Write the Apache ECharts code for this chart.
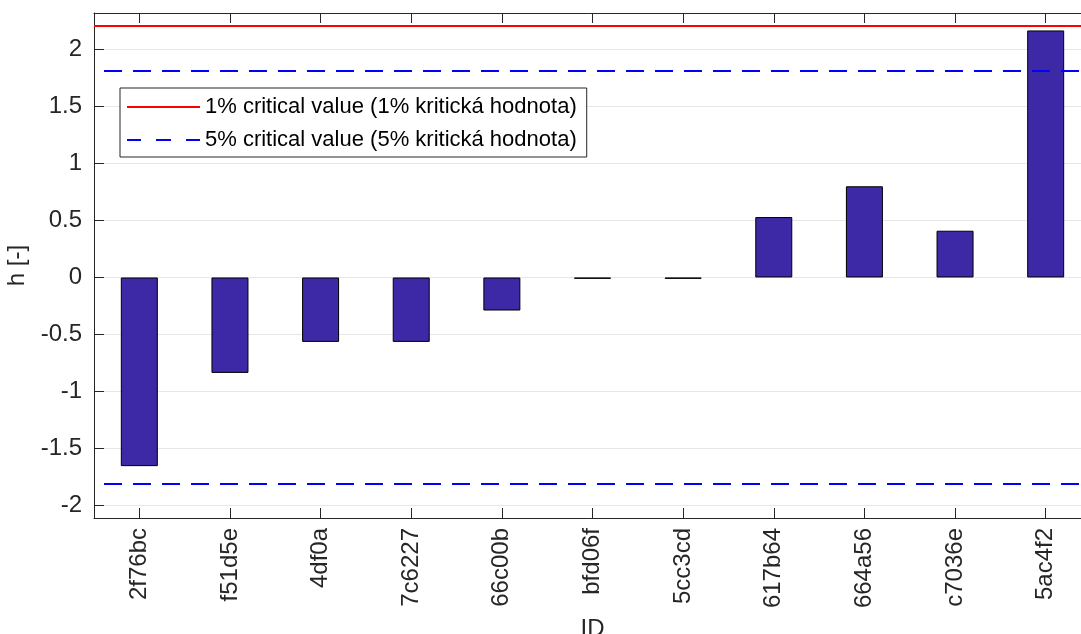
<!DOCTYPE html>
<html>
<head>
<meta charset="utf-8">
<script src="https://cdn.jsdelivr.net/npm/echarts@6/dist/echarts.min.js"></script>
<style>
  html, body { margin: 0; padding: 0; background: #fff; }
  #chart { width: 1081px; height: 634px; }
</style>
</head>
<body>
<div id="chart"></div>
<script>
// data
const ids = ['2f76bc', 'f51d5e', '4df0a', '7c6227', '66c00b', 'bfd06f', '5cc3cd', '617b64', '664a56', 'c7036e', '5ac4f2'];
const hValues = [-1.655, -0.837, -0.565, -0.565, -0.29, -0.012, -0.012, 0.53, 0.80, 0.41, 2.167];
const yTicks = [-2, -1.5, -1, -0.5, 0, 0.5, 1, 1.5, 2];
const crit1 = [2.215];
const crit5 = [1.815, -1.815];
const legendNames = ['1% critical value (1% kritická hodnota)', '5% critical value (5% kritická hodnota)'];

const axisColor = '#262626';
const font = "'Liberation Sans', Arial, sans-serif";

const chart = echarts.init(document.getElementById('chart'));

const option = {
  animation: false,
  textStyle: { fontFamily: font },
  grid: { left: 94, top: 13, width: 997, bottom: 116, outerBoundsMode: 'none' },
  legend: {
    orient: 'vertical',
    left: 120,
    top: 88,
    padding: [8, 10, 6, 7],
    itemWidth: 73,
    itemHeight: 14,
    itemGap: 11,
    borderColor: axisColor,
    borderWidth: 1,
    backgroundColor: '#fff',
    selectedMode: false,
    textStyle: { fontSize: 22, lineHeight: 22, color: '#000', fontFamily: font },
    data: [
      { name: legendNames[0], icon: 'path://M0,0h73v2H0z', itemStyle: { color: '#ff0000' } },
      { name: legendNames[1], icon: 'path://M0,0h14v2H0z M29,0h15v2H29z M59,0h14v2H59z', itemStyle: { color: '#0000ff' } }
    ]
  },
  xAxis: [{
    type: 'category',
    data: ids,
    position: 'bottom',
    name: 'ID',
    nameLocation: 'middle',
    nameGap: 99,
    nameTextStyle: { fontSize: 24, color: axisColor, fontFamily: font },
    axisLine: { show: true, onZero: false, lineStyle: { color: axisColor, width: 1 } },
    axisTick: { show: true, inside: true, length: 10, alignWithLabel: true, lineStyle: { color: axisColor } },
    axisLabel: { rotate: 90, fontSize: 24, color: axisColor, margin: 10, interval: 0, fontFamily: font },
    splitLine: { show: false }
  }, {
    type: 'category',
    data: ids,
    position: 'top',
    axisLine: { show: true, onZero: false, lineStyle: { color: axisColor, width: 1 } },
    axisTick: { show: true, inside: true, length: 10, alignWithLabel: true, lineStyle: { color: axisColor } },
    axisLabel: { show: false },
    splitLine: { show: false }
  }],
  yAxis: {
    type: 'value',
    min: -2.11,
    max: 2.32,
    name: 'h [-]',
    nameLocation: 'middle',
    nameRotate: 90,
    nameGap: 58,
    nameTextStyle: { fontSize: 24, color: axisColor, fontFamily: font },
    axisLine: { show: true, onZero: false, lineStyle: { color: axisColor, width: 1 } },
    axisTick: { show: true, inside: true, length: 10, customValues: yTicks, lineStyle: { color: axisColor } },
    axisLabel: { fontSize: 24, color: axisColor, margin: 12, customValues: yTicks, fontFamily: font },
    splitLine: { show: true, lineStyle: { color: '#e6e6e6', width: 1 } }
  },
  series: [{
    type: 'bar',
    data: hValues,
    barWidth: 37,
    itemStyle: { color: '#3D28A5', borderColor: '#000', borderWidth: 1 },
    z: 3
  }, {
    name: legendNames[0],
    type: 'line',
    data: [],
    symbol: 'none',
    itemStyle: { color: '#ff0000' },
    lineStyle: { color: '#ff0000', width: 2 },
    markLine: {
      silent: true,
      symbol: 'none',
      label: { show: false },
      lineStyle: { color: '#ff0000', width: 2, type: 'solid' },
      data: crit1.map(v => ({ yAxis: v }))
    },
    z: 4
  }, {
    name: legendNames[1],
    type: 'line',
    data: [],
    symbol: 'none',
    itemStyle: { color: '#0000ff' },
    lineStyle: { color: '#0000ff', width: 2 },
    markLine: {
      silent: true,
      symbol: 'none',
      label: { show: false },
      lineStyle: { color: '#0000ff', width: 2, type: [18, 11], dashOffset: -10 },
      data: crit5.map(v => ({ yAxis: v }))
    },
    z: 4
  }]
};

chart.setOption(option);
</script>
</body>
</html>
